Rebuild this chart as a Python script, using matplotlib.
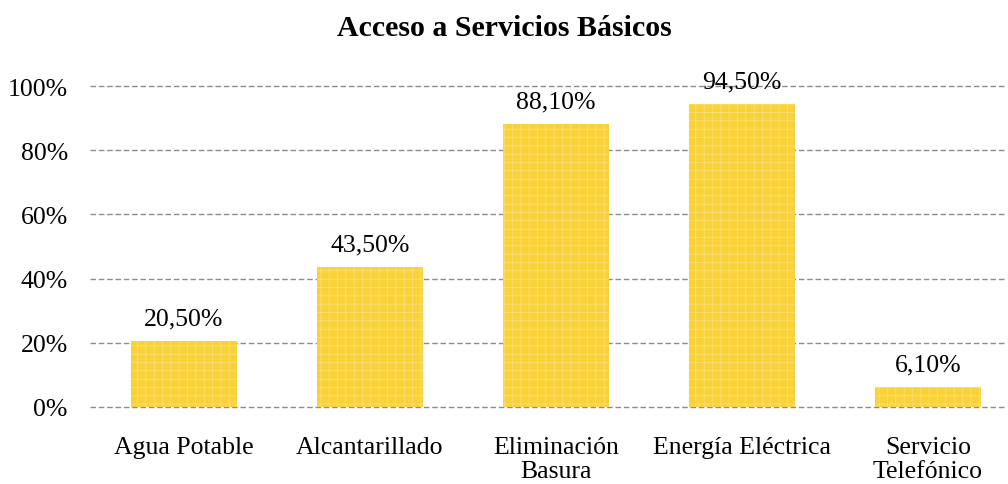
import matplotlib.pyplot as plt
import matplotlib as mpl

# --- Datos ---
categorias = ["Agua Potable", "Alcantarillado", "Eliminación\nBasura",
              "Energía Eléctrica", "Servicio\nTelefónico"]
valores = [20.5, 43.5, 88.1, 94.5, 6.1]
etiquetas = ["20,50%", "43,50%", "88,10%", "94,50%", "6,10%"]
yticks = [0, 20, 40, 60, 80, 100]

plt.rcParams['font.family'] = ['Liberation Serif', 'DejaVu Serif']
mpl.rcParams['hatch.linewidth'] = 0.5

fig = plt.figure(figsize=(10.08, 4.85), dpi=100)
ax = fig.add_axes([0.0893, 0.1588, 0.9077, 0.6618])

x = range(len(categorias))
bars = ax.bar(x, valores, width=0.57, color='#F9D239', edgecolor='#FCE07C',
              hatch='++', linewidth=0, zorder=3)

for xi, v, t in zip(x, valores, etiquetas):
    ax.text(xi, v + 7.0, t, ha='center', va='center', fontsize=18.5, clip_on=False)

ax.set_xlim(-0.505, 4.415)
ax.set_ylim(0, 100)
ax.set_yticks(yticks)
ax.set_yticklabels([f"{t}%" for t in yticks], fontsize=18.5)
ax.set_xticks(list(x))
ax.set_xticklabels(categorias, fontsize=18.5, linespacing=1.12)
ax.tick_params(length=0)
ax.tick_params(axis='y', pad=16)
ax.tick_params(axis='x', pad=21)

ax.grid(axis='y', color='#8C8C8C', linestyle=(0, (4, 2)), linewidth=1, zorder=0)
for line in ax.get_ygridlines():
    line.set_clip_on(False)
for s in ax.spines.values():
    s.set_visible(False)

fig.suptitle("Acceso a Servicios Básicos", fontsize=21.5, fontweight='bold', y=0.97)

fig.savefig("out.png", dpi=100)
